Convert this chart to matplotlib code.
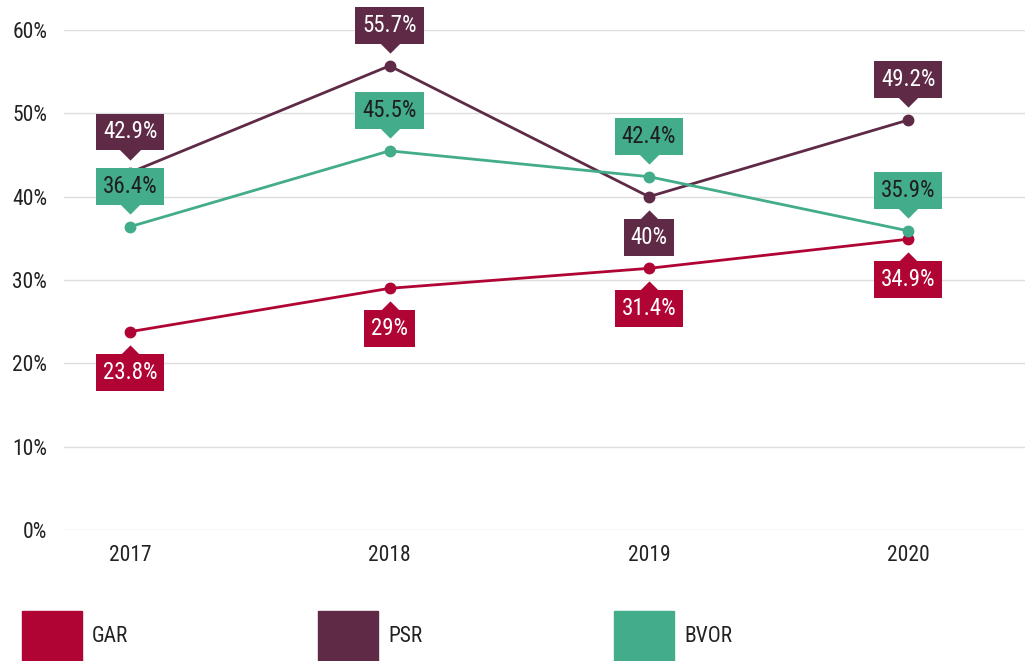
import matplotlib
matplotlib.use('Agg')
import matplotlib.pyplot as plt
from matplotlib.path import Path
from matplotlib.patches import Rectangle
from matplotlib.transforms import offset_copy

plt.rcParams['font.family'] = ['Roboto Condensed', 'DejaVu Sans']
plt.rcParams['font.stretch'] = 'condensed'

years = ['2017', '2018', '2019', '2020']
series = ['GAR', 'PSR', 'BVOR']
gar = [23.8, 29.0, 31.4, 34.9]
psr = [42.9, 55.7, 40.0, 49.2]
bvor = [36.4, 45.5, 42.4, 35.9]
gar_labels = ['23.8%', '29%', '31.4%', '34.9%']
psr_labels = ['42.9%', '55.7%', '40%', '49.2%']
bvor_labels = ['36.4%', '45.5%', '42.4%', '35.9%']
# +1 label above the point, -1 below
gar_side = [-1, -1, -1, -1]
psr_side = [1, 1, -1, 1]
bvor_side = [1, 1, 1, 1]

colors = {'GAR': '#b00435', 'PSR': '#5e2a46', 'BVOR': '#43ac8a'}
text_colors = {'GAR': 'white', 'PSR': 'white', 'BVOR': '#1e1e1e'}
data = {'GAR': (gar, gar_labels, gar_side),
        'PSR': (psr, psr_labels, psr_side),
        'BVOR': (bvor, bvor_labels, bvor_side)}

fig = plt.figure(figsize=(10.25, 6.61), dpi=100)
ax = fig.add_axes([64 / 1025, 131 / 661, 1 - 64 / 1025, 500 / 661])

x = list(range(len(years)))

tri_down = Path([(-1, 0), (1, 0), (0, -1), (-1, 0)], [1, 2, 2, 79])
tri_up = Path([(-1, 0), (1, 0), (0, 1), (-1, 0)], [1, 2, 2, 79])

for name in series:
    vals, labs, sides = data[name]
    c = colors[name]
    ax.plot(x, vals, color=c, lw=2, marker='o', ms=7.5, zorder=3, clip_on=False)
    for xi, v, lab, s in zip(x, vals, labs, sides):
        # pointer, base tucked into the box
        tr = offset_copy(ax.transData, fig=fig, x=0, y=s * 24, units='dots')
        ax.plot([xi], [v], marker=tri_down if s > 0 else tri_up, ms=16,
                color=c, mew=0, transform=tr, zorder=4, clip_on=False)
        ax.annotate(lab, (xi, v), xytext=(0, s * 29 * 0.72),
                    textcoords='offset points', ha='center',
                    va='bottom' if s > 0 else 'top',
                    fontsize=16.5, color=text_colors[name], zorder=5,
                    bbox=dict(boxstyle='square,pad=0.3', fc=c, ec='none'),
                    annotation_clip=False)

ax.set_xlim(-0.255, 3.45)
ax.set_ylim(0, 60)
ax.set_yticks(range(0, 61, 10))
ax.set_yticklabels([f'{v}%' for v in range(0, 61, 10)])
ax.set_xticks(x)
ax.set_xticklabels(years)
ax.grid(axis='y', color='#dddddd', lw=1)
ax.set_axisbelow(True)
for sp in ax.spines.values():
    sp.set_visible(False)
ax.tick_params(axis='both', length=0, labelsize=15.5, colors='#222222')
ax.tick_params(axis='y', pad=12)
ax.tick_params(axis='x', pad=11)

# legend
for i, name in enumerate(series):
    x0 = 22 + i * 296
    fig.add_artist(Rectangle((x0 / 1025, 0), 60 / 1025, 50 / 661,
                             transform=fig.transFigure, color=colors[name]))
    fig.text((x0 + 70) / 1025, 24 / 661, name, fontsize=15.5, color='#222222',
             va='center', ha='left')

fig.savefig('out.png', dpi=100)
